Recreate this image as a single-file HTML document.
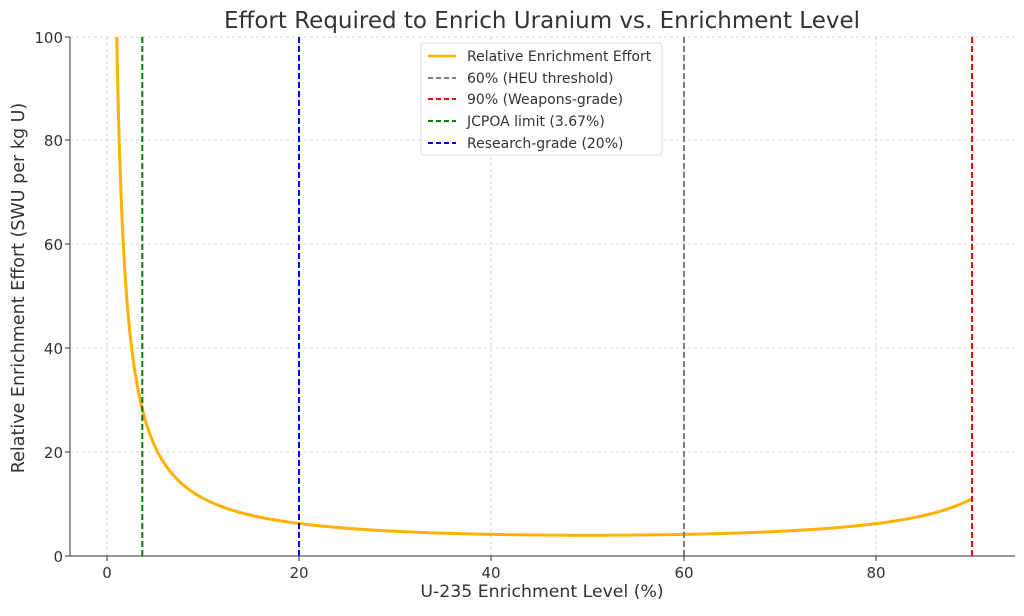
<!DOCTYPE html>
<html><head><meta charset="utf-8"><style>
body{margin:0;background:#fff;}
svg{font-family:"DejaVu Sans","Liberation Sans",sans-serif;}
</style></head><body>
<svg id="s" width="1024" height="611" xmlns="http://www.w3.org/2000/svg">
<rect width="1024" height="611" fill="#fff"/>
<g stroke="#cccccc" stroke-width="0.8" stroke-dasharray="3,3">
<line x1="107" y1="37" x2="107" y2="556"/><line x1="299" y1="37" x2="299" y2="556"/>
<line x1="491" y1="37" x2="491" y2="556"/><line x1="684" y1="37" x2="684" y2="556"/>
<line x1="876" y1="37" x2="876" y2="556"/>
<line x1="70" y1="452" x2="1015" y2="452"/><line x1="70" y1="348" x2="1015" y2="348"/>
<line x1="70" y1="244" x2="1015" y2="244"/><line x1="70" y1="140" x2="1015" y2="140"/>
<line x1="70" y1="37" x2="1015" y2="37"/>
</g>
<path id="curve" fill="none" stroke="#ffb000" stroke-width="3"/>
<g stroke-width="2" stroke-dasharray="6,3">
<line x1="684" y1="37" x2="684" y2="556" stroke="#808080"/>
<line x1="972" y1="37" x2="972" y2="556" stroke="#ff0000"/>
<line x1="142.3" y1="37" x2="142.3" y2="556" stroke="#008000"/>
<line x1="299" y1="37" x2="299" y2="556" stroke="#0000ff"/>
</g>
<g stroke="#333" stroke-width="1"><line x1="70" y1="37" x2="70" y2="556"/><line x1="70" y1="556" x2="1015" y2="556"/></g>
<g stroke="#333"><line x1="107" y1="556" x2="107" y2="561"/><line x1="299" y1="556" x2="299" y2="561"/><line x1="491" y1="556" x2="491" y2="561"/><line x1="684" y1="556" x2="684" y2="561"/><line x1="876" y1="556" x2="876" y2="561"/>
<line x1="65" y1="556" x2="70" y2="556"/><line x1="65" y1="452" x2="70" y2="452"/><line x1="65" y1="348" x2="70" y2="348"/><line x1="65" y1="244" x2="70" y2="244"/><line x1="65" y1="140" x2="70" y2="140"/><line x1="65" y1="37" x2="70" y2="37"/></g>
<g font-size="15" fill="#333" text-anchor="middle">
<text x="107" y="578">0</text><text x="299" y="578">20</text><text x="491" y="578">40</text><text x="684" y="578">60</text><text x="876" y="578">80</text></g>
<g font-size="15" fill="#333" text-anchor="end">
<text x="63" y="562">0</text><text x="63" y="458">20</text><text x="63" y="354">40</text><text x="63" y="250">60</text><text x="63" y="146">80</text><text x="63" y="43">100</text></g>
<text x="542" y="597" font-size="17.3" fill="#333" text-anchor="middle">U-235 Enrichment Level (%)</text>
<text transform="translate(24,288) rotate(-90)" font-size="17.5" fill="#333" text-anchor="middle">Relative Enrichment Effort (SWU per kg U)</text>
<text x="542" y="28" font-size="23" fill="#333" text-anchor="middle">Effort Required to Enrich Uranium vs. Enrichment Level</text>
<rect x="421" y="43" width="241" height="112" rx="3" fill="#fff" fill-opacity="0.85" stroke="#ddd"/>
<g stroke-width="2.5"><line x1="428" y1="56" x2="456" y2="56" stroke="#ffb000"/></g>
<g stroke-width="2" stroke-dasharray="5,3">
<line x1="428" y1="78" x2="456" y2="78" stroke="#808080"/>
<line x1="428" y1="99" x2="456" y2="99" stroke="#ff0000"/>
<line x1="428" y1="121" x2="456" y2="121" stroke="#008000"/>
<line x1="428" y1="143" x2="456" y2="143" stroke="#0000ff"/></g>
<g font-size="14" fill="#333">
<text x="467" y="61">Relative Enrichment Effort</text>
<text x="467" y="83">60% (HEU threshold)</text>
<text x="467" y="104">90% (Weapons-grade)</text>
<text x="467" y="126">JCPOA limit (3.67%)</text>
<text x="467" y="148">Research-grade (20%)</text></g>
</svg>
<script>
var d="";for(var i=0;i<=600;i++){var x=1.01+i*(90-1.01)/600;var p=x/100;var y=1/(p*(1-p));
var px=107+x*9.62,py=556-y*5.19;if(py<37)py=37;d+=(i?"L":"M")+px.toFixed(2)+","+py.toFixed(2);}
document.getElementById("curve").setAttribute("d",d);
</script>
</body></html>
